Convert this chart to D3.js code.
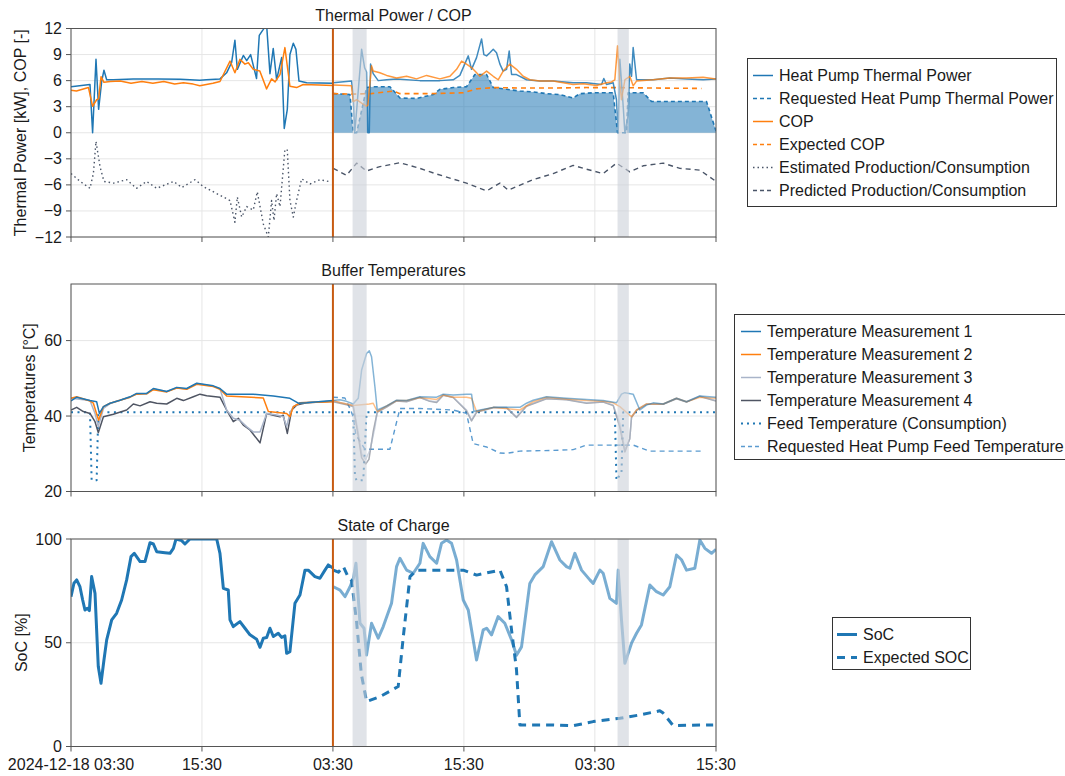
<!DOCTYPE html>
<html>
<head>
<meta charset="utf-8">
<script src="https://cdn.jsdelivr.net/npm/d3@7"></script>
<style>
  body { margin: 0; background: #fff; }
  svg text { font-family: "Liberation Sans", Arial, sans-serif; fill: #1a1a1a; }
</style>
</head>
<body>
<div id="chart"></div>
<script>
// time axis: hours after 2024-12-18 03:30
var xTickHours = [0, 12, 24, 36, 48, 59.1];
var xTickLabels = ["2024-12-18 03:30", "15:30", "03:30", "15:30", "03:30", "15:30"];
var nowHour = 24;
var blockedSpans = [[25.8, 27.09], [50.08, 51.11]];

// --- Thermal Power / COP ---
var hpPowerHist = [[0,5.3],[1.74,5.55],[1.98,0],[2.29,8.45],[2.53,2.7],[2.81,5.9],[3.02,7.2],[3.27,6.1],[3.88,6.1],[5.7,6.2],[8,6.2],[10,6.15],[11.8,6.05],[12.4,6.1],[13.65,6.2],[14.26,6.9],[14.72,8.1],[15.02,10.65],[15.24,7.3],[15.79,8.9],[16.1,8.3],[16.46,9.0],[17.0,6.25],[17.25,11.2],[17.62,11.9],[17.92,12.5],[18.23,6.8],[18.53,9.7],[18.84,6.1],[19.3,8.65],[19.54,0.5],[19.82,2.7],[20.06,9.0],[20.37,10.3],[20.61,9.6],[20.89,5.95],[21.6,5.75],[24.0,5.7]];
var hpPowerSim = [[24.03,5.75],[25.71,5.95],[25.86,4.2],[26.0,0],[26.2,3],[26.63,9.6],[26.9,7.5],[27.08,7.0],[27.2,0],[27.33,0],[27.45,7.9],[27.69,6.8],[28.15,6.0],[28.92,6.1],[29.83,6.2],[31.97,6.0],[33.8,6.0],[35.02,6.1],[35.63,6.6],[36.4,8.85],[36.7,7.3],[37.16,8.65],[37.62,10.8],[37.83,9.0],[38.08,8.85],[38.38,9.2],[38.69,9.6],[38.99,9.2],[39.3,7.9],[39.6,7.1],[39.91,7.3],[40.15,9.4],[40.37,6.7],[40.82,6.7],[41.74,6.1],[42.96,5.95],[44.18,5.95],[46.01,5.75],[47.24,5.75],[48.61,5.55],[48.82,6.25],[49.07,5.55],[49.68,5.75],[49.98,3.8],[50.14,0],[50.29,8.45],[50.6,3],[50.75,0],[51.05,2],[51.2,7.9],[51.36,6.5],[51.51,9.8],[51.82,6.1],[53.34,6.1],[54.87,6.3],[56.4,6.2],[57.92,6.1],[59.1,6.2]];
var hpPowerRequested = [[24.03,4.5],[25.56,4.4],[25.86,0],[26.17,0],[26.78,3.4],[27.08,5.2],[27.69,5.3],[29.22,5.3],[30.14,4.0],[31.66,3.95],[33.19,4.4],[33.8,5.0],[35.02,5.2],[36.24,5.3],[37.01,6.7],[38.08,6.7],[38.69,5.2],[39.91,5.0],[41.13,4.8],[42.35,4.7],[43.57,4.5],[44.79,4.4],[46.01,4.0],[46.62,4.5],[47.85,4.6],[49.68,4.6],[50.08,0],[50.9,0],[51.05,4.6],[52.43,4.6],[53.19,3.6],[54.56,3.6],[58.23,3.6],[59.1,0.2]];
var copHist = [[0,4.9],[0.5,4.8],[1.6,5.2],[1.98,3.05],[2.35,3.8],[2.53,3.9],[2.75,6.45],[3.02,5.8],[3.6,5.9],[4.5,5.95],[5.5,5.7],[6.5,5.9],[7.5,5.7],[8.5,5.9],[9.5,5.6],[10.3,5.75],[11.2,5.6],[11.8,5.4],[13,5.7],[13.65,5.9],[14.57,8.25],[15.02,6.9],[15.48,8.45],[15.94,7.9],[16.25,8.05],[16.7,7.3],[17.3,7.1],[17.92,5.05],[18.38,6.2],[18.7,5.85],[19.15,6.7],[19.6,9.8],[20.06,5.35],[20.67,5.2],[21.28,5.55],[22.75,5.5],[24.0,5.45]];
var copSim = [[24.03,5.5],[25.2,5.45],[25.7,5.4],[25.86,3.6],[26.17,3.8],[26.63,3.4],[27.08,3.05],[27.2,3.2],[27.54,7.7],[27.69,7.1],[28.3,6.9],[28.92,6.6],[29.83,6.3],[30.75,6.5],[31.66,6.2],[32.58,6.6],[33.8,6.2],[34.72,6.5],[35.33,7.3],[35.79,8.25],[36.24,7.9],[36.7,7.5],[37.01,7.1],[37.47,6.5],[38.08,7.1],[38.69,6.5],[39.14,6.1],[39.6,7.1],[40.21,7.9],[40.82,7.3],[41.43,6.5],[42.05,6.1],[42.96,5.95],[44.18,5.95],[45.1,5.75],[46.01,5.55],[46.93,5.65],[48.15,5.45],[49.07,5.75],[49.53,5.85],[49.83,6.1],[50.08,10.0],[50.29,5.75],[50.44,3.8],[50.75,6.1],[51.2,6.5],[51.51,5.4],[51.82,5.95],[53.34,6.1],[54.87,6.3],[56.4,6.3],[57.92,6.4],[59.1,6.2]];
var copExpected = [[24.03,4.5],[25.8,4.45],[27.5,4.5],[29.53,4.8],[30.14,4.5],[32.88,4.5],[35.94,4.6],[37.16,5.05],[38.69,5.2],[41.13,5.15],[44.18,5.15],[47.24,5.2],[49.68,5.2],[53.34,5.15],[57.77,5.1]];
var prodEstimated = [[0,-4.7],[0.84,-5.6],[1.74,-6.4],[2.05,-4.7],[2.29,-1.0],[2.66,-3.9],[3.02,-5.6],[3.88,-5.8],[5.1,-5.4],[6.0,-6.4],[6.93,-5.6],[7.85,-6.4],[9.4,-5.6],[10.15,-6.3],[11.37,-5.4],[12.13,-6.2],[13.35,-7.0],[14.57,-7.8],[15.02,-10.3],[15.24,-7.4],[15.64,-9.7],[16.1,-8.5],[16.7,-8.9],[17.07,-6.8],[17.62,-10.5],[18.08,-12],[18.38,-7.8],[18.6,-10.1],[18.84,-7.0],[19.15,-8.5],[19.6,-1.9],[19.82,-2.0],[20.06,-7.8],[20.37,-9.7],[20.67,-7.8],[21.13,-5.3],[21.9,-5.9],[22.8,-5.4],[23.6,-5.6]];
var prodPredicted = [[24.03,-4.1],[25.25,-4.9],[26.17,-3.5],[27.08,-4.4],[28.3,-3.9],[30.14,-3.45],[31.97,-4.1],[33.5,-4.75],[36.24,-5.8],[38.08,-6.7],[39.3,-5.8],[40.06,-6.6],[42.35,-5.4],[44.18,-4.7],[46.01,-3.75],[47.24,-4.2],[48.76,-4.7],[49.98,-3.5],[51.2,-4.5],[52.43,-3.8],[54.26,-3.5],[55.79,-4.1],[57.62,-4.3],[59.1,-5.6]];

// --- Buffer Temperatures ---
var temp1Hist = [[0,44.0],[0.52,45.0],[1.74,44.1],[2.35,43.8],[2.6,40.7],[2.97,42.5],[3.58,43.4],[4.49,44.2],[5.41,45.1],[6.02,46.0],[6.93,46.0],[7.55,47.3],[8.77,46.5],[9.69,47.6],[10.6,47.3],[11.52,48.7],[13.04,48.0],[13.65,47.3],[14.26,45.8],[16.7,45.8],[18.54,45.3],[20.06,44.7],[20.83,43.4],[21.59,43.5],[24.0,44.1]];
var temp1Sim = [[24.03,44.1],[24.64,44.3],[25.25,43.9],[25.86,43.2],[26.32,44.7],[26.63,52.2],[27.08,56.6],[27.33,57.3],[27.54,55.7],[27.85,47.7],[28.06,41.6],[28.92,42.7],[29.83,44.2],[30.75,44.1],[31.97,45.1],[33.5,45.0],[34.11,45.8],[35.02,45.6],[36.24,45.8],[36.7,45.8],[36.92,41.2],[37.47,41.6],[38.69,42.3],[41.13,42.3],[41.74,43.4],[42.35,44.2],[43.57,45.1],[45.4,44.7],[47.24,44.4],[48.76,44.1],[49.98,43.5],[50.44,45.8],[50.75,46.2],[51.51,45.8],[52.12,41.6],[52.73,42.9],[53.34,43.5],[54.26,43.2],[55.48,44.7],[56.4,43.8],[57.62,45.3],[59.1,45.0]];
var temp2Hist = [[0,44.7],[0.52,45.1],[1.74,44.0],[2.05,43.4],[2.53,38.9],[2.97,42.5],[3.58,43.4],[4.49,44.2],[5.41,45.0],[6.02,45.8],[6.93,45.9],[7.55,47.0],[8.77,46.4],[9.69,47.4],[10.6,47.1],[11.52,48.4],[13.04,47.8],[13.65,47.1],[14.26,45.3],[17.62,44.8],[18.08,41.2],[19.76,40.7],[20.06,39.8],[20.37,42.5],[20.98,43.5],[24.0,43.8]];
var temp2Sim = [[24.03,44.1],[24.64,43.6],[25.25,43.2],[25.86,42.8],[27.33,43.2],[27.69,43.4],[28.06,41.2],[28.92,42.7],[29.83,44.1],[30.75,44.1],[31.97,44.9],[33.5,44.4],[34.11,45.6],[35.02,45.0],[36.24,45.0],[36.7,44.7],[37.16,41.2],[38.69,42.3],[41.13,41.6],[42.35,43.8],[43.57,45.0],[45.4,44.5],[47.24,44.1],[48.76,43.9],[49.68,43.5],[50.29,42.5],[51.36,39.8],[51.82,41.6],[52.73,43.2],[54.26,43.2],[55.48,44.7],[56.4,43.8],[57.62,45.0],[59.1,44.7]];
var temp3Hist = [[0,44.7],[1.74,44.1],[2.2,40.7],[2.5,37.2],[2.97,42.0],[3.58,43.3],[4.49,44.2],[5.41,45.0],[6.02,45.9],[6.93,45.9],[7.55,47.2],[8.77,46.5],[9.69,47.5],[10.6,47.2],[11.52,48.6],[13.04,47.9],[13.65,47.2],[14.26,41.6],[14.87,39.4],[15.48,38.9],[16.09,37.2],[16.7,35.8],[17.32,35.8],[17.93,40.7],[18.84,40.3],[19.45,39.8],[19.76,37.2],[20.06,40.7],[20.37,42.5],[20.98,43.5],[24.0,44.0]];
var temp3Sim = [[24.03,44.0],[25.25,43.2],[25.86,42.8],[26.3,36],[26.63,30],[27.0,28.5],[27.4,31],[27.85,37],[28.06,41.2],[28.92,42.5],[29.83,44.1],[30.75,43.9],[31.97,45.0],[32.88,44.0],[33.5,43.8],[34.11,45.6],[35.02,45.0],[36.24,41.6],[36.7,38.9],[37.16,41.2],[38.69,42.3],[39.91,42.3],[40.82,39.8],[41.74,42.7],[43.57,44.7],[45.4,44.4],[47.24,43.5],[48.76,43.8],[49.68,42.9],[50.29,38],[50.75,31],[51.2,34],[51.36,39.8],[51.82,41.6],[52.73,43.2],[54.26,43.2],[55.48,44.7],[56.4,43.8],[57.62,45.3],[59.1,44.1]];
var temp4Hist = [[0,41.6],[0.52,42.3],[1.13,41.2],[1.74,40.7],[2.2,38.5],[2.5,35.6],[2.97,39.8],[3.88,40.5],[5.1,41.6],[5.71,43.2],[6.33,42.7],[7.24,43.8],[7.85,43.4],[8.77,43.2],[9.69,44.7],[10.3,44.1],[11.21,45.1],[11.82,45.8],[12.43,45.4],[13.65,45.0],[14.26,41.6],[14.87,38.5],[15.33,39.4],[15.79,37.6],[16.4,36.3],[17.32,32.9],[17.93,40.7],[18.54,40.2],[19.15,39.8],[19.45,40.2],[19.82,35.4],[20.22,41.6],[20.67,42.9],[21.59,43.5],[24.0,43.9]];
var temp4Sim = [[24.03,43.8],[25.25,43.0],[25.86,42.5],[26.3,35],[26.63,29],[27.0,27.3],[27.3,28.5],[27.7,36],[28.06,41.0],[28.92,42.4],[29.83,44.0],[30.75,43.8],[31.97,44.9],[32.88,43.9],[33.5,43.6],[34.11,45.5],[35.02,44.9],[36.24,41.4],[36.7,38.7],[37.16,41.0],[38.69,42.2],[39.91,42.2],[40.82,39.6],[41.74,42.6],[43.57,44.6],[45.4,44.3],[47.24,43.4],[48.76,43.7],[49.68,42.8],[50.29,37],[50.75,30.5],[51.2,34],[51.36,39.6],[51.82,41.5],[52.73,43.1],[54.26,43.1],[55.48,44.6],[56.4,43.7],[57.62,45.2],[59.1,44.0]];
var feedTemp = [[0,41],[1.74,41],[1.89,23],[2.35,23],[2.5,41],[25.86,41],[26.02,24],[26.17,22.9],[26.78,23],[27.08,41],[49.83,41],[49.98,23],[50.44,25],[50.6,41],[59.1,41]];
var feedTempRequested = [[24.0,45.0],[25.1,44.8],[25.56,42.0],[25.86,39.8],[26.1,35],[26.93,31.2],[29.22,31.2],[30.14,42.0],[31.97,42.0],[35.02,41.6],[36.24,40.7],[36.85,32.7],[38.08,31.8],[39.3,30.2],[39.91,30.1],[41.13,30.7],[44.18,30.9],[46.01,31.1],[47.24,32.3],[49.68,32.3],[51.51,32.3],[53.03,30.7],[57.92,30.7]];

// --- State of Charge ---
var socHist = [[0,72.2],[0.27,78.7],[0.52,80.3],[0.82,77],[1.07,70.6],[1.28,65.8],[1.5,66.6],[1.68,65.5],[1.89,81.9],[2.2,73.8],[2.5,38.5],[2.75,30.5],[3.02,41.7],[3.27,51.4],[3.73,61],[4.18,64.2],[4.64,70.6],[5.1,80.3],[5.5,91.5],[5.8,93.1],[6.33,89.1],[6.78,89.1],[7.24,98.2],[7.55,97.6],[7.85,93.9],[8.61,93.4],[9.07,93.1],[9.38,95.5],[9.62,100],[10.14,99.2],[10.44,97.6],[10.9,100],[11.82,100],[13.35,100],[13.65,93.1],[13.96,76.2],[14.41,75.4],[14.57,61],[14.87,57.8],[15.48,60.2],[15.94,57],[16.4,53.8],[17.01,51.7],[17.32,47.8],[17.62,52.2],[17.93,52.5],[18.23,57],[18.54,53],[18.99,54.6],[19.3,52.6],[19.6,53.3],[19.76,44.9],[20.06,45.7],[20.52,69],[20.98,73],[21.44,85],[21.74,85],[22.35,81.9],[22.81,81.1],[23.27,85],[23.57,87.5],[24.04,85.9]];
var socSim = [[24.04,77],[24.65,75.4],[25.11,72.2],[25.57,77],[25.87,81],[26.11,88.3],[26.48,59.4],[26.85,57],[27.08,44.1],[27.54,59.4],[28.15,52.2],[28.61,57.8],[29.37,69],[29.83,86.7],[30.14,90.7],[30.75,85],[31.36,83.5],[31.97,88.3],[32.27,97.9],[32.88,91.5],[33.5,88.3],[33.95,97.9],[34.41,99.5],[34.87,97.9],[35.33,89.9],[35.94,70.6],[36.4,65.8],[37.16,41.7],[37.77,56.2],[38.08,57],[38.53,53.8],[39.14,62.6],[39.75,59.4],[40.37,51.4],[40.82,44],[41.28,48],[42.04,78.6],[42.5,82.7],[43.27,86.7],[44.03,98.7],[44.79,89.9],[45.4,86.7],[45.71,85.9],[46.17,93.1],[46.78,85],[47.54,80.3],[47.85,78.6],[48.46,85],[48.76,83.5],[49.37,71.4],[49.98,69],[50.14,85],[50.44,61],[50.75,40.1],[51.36,49.8],[51.82,54.6],[52.27,58.6],[53.04,77.8],[53.65,74.6],[54.26,73],[54.87,77],[55.48,92.3],[55.94,90],[56.4,85],[57.16,85.9],[57.62,99.5],[58.08,95.5],[58.69,93.1],[59.1,95]];
var socExpected = [[24.04,85],[24.5,84],[24.96,86.7],[25.41,81.5],[25.71,80],[26.17,60],[26.6,35],[27.08,21.7],[28.3,24],[29.98,28.9],[30.45,53],[31.06,81.9],[31.66,85],[35.94,85],[37.16,82.6],[39.3,85],[39.91,77],[40.37,56],[40.82,37],[41.13,10.4],[42.35,10.4],[44.18,10.4],[46.01,10],[47.85,12.0],[50.29,13.6],[52.12,15.2],[53.95,17.2],[54.26,16.1],[55.17,10.1],[58.84,10.4]];

var blue = "#1f77b4", orange = "#ff7f0e", slate = "#4a5568";
var spine = "#555", grid = "#e6e6e6", nowColor = "#c75b12";
var fontSize = "16px";

var svg = d3.select("#chart").append("svg")
    .attr("width", 1065)
    .attr("height", 776);

var x = d3.scaleLinear().domain([0, 59.1]).range([71, 716]);

var panels = [
  { title: "Thermal Power / COP", ylabel: "Thermal Power [kW], COP [-]", top: 28.5, bottom: 237,
    domain: [-12, 12], ticks: d3.range(-12, 13, 3), labelX: 20 },
  { title: "Buffer Temperatures", ylabel: "Temperatures [°C]", top: 284, bottom: 491.5,
    domain: [20, 75], ticks: [20, 40, 60], labelX: 29 },
  { title: "State of Charge", ylabel: "SoC [%]", top: 539, bottom: 746.5,
    domain: [0, 100], ticks: [0, 50, 100], labelX: 21 }
];

var fmt = function (v) { return v < 0 ? "\u2212" + Math.abs(v) : String(v); };

panels.forEach(function (p, i) {
  p.y = d3.scaleLinear().domain(p.domain).range([p.bottom, p.top]);
  var g = svg.append("g");
  p.g = g;

  svg.append("clipPath").attr("id", "clip" + i)
    .append("rect").attr("x", 71).attr("y", p.top)
    .attr("width", 645).attr("height", p.bottom - p.top);

  // grid
  g.selectAll(".gy").data(p.ticks).enter().append("line")
    .attr("x1", 71).attr("x2", 716)
    .attr("y1", function (d) { return p.y(d); }).attr("y2", function (d) { return p.y(d); })
    .attr("stroke", grid).attr("stroke-width", 1);
  g.selectAll(".gx").data(xTickHours).enter().append("line")
    .attr("x1", function (d) { return x(d); }).attr("x2", function (d) { return x(d); })
    .attr("y1", p.top).attr("y2", p.bottom)
    .attr("stroke", grid).attr("stroke-width", 1);

  p.plot = g.append("g").attr("clip-path", "url(#clip" + i + ")");

  // title and y label
  svg.append("text").attr("x", 393.5).attr("y", p.top - 8)
    .attr("text-anchor", "middle").style("font-size", fontSize).text(p.title);
  svg.append("text")
    .attr("transform", "translate(" + p.labelX + "," + ((p.top + p.bottom) / 2) + ") rotate(-90)")
    .attr("text-anchor", "middle").attr("dominant-baseline", "central")
    .style("font-size", fontSize).text(p.ylabel);

  // y ticks
  var yt = svg.append("g");
  p.ticks.forEach(function (t) {
    yt.append("line").attr("x1", 66).attr("x2", 71)
      .attr("y1", p.y(t)).attr("y2", p.y(t)).attr("stroke", spine);
    yt.append("text").attr("x", 62).attr("y", p.y(t))
      .attr("text-anchor", "end").attr("dominant-baseline", "central")
      .style("font-size", fontSize).text(fmt(t));
  });
  // x ticks
  xTickHours.forEach(function (h, k) {
    yt.append("line").attr("x1", x(h)).attr("x2", x(h))
      .attr("y1", p.bottom).attr("y2", p.bottom + 5).attr("stroke", spine);
    if (i === 2) {
      yt.append("text").attr("x", x(h)).attr("y", p.bottom + 23)
        .attr("text-anchor", "middle")
        .style("font-size", fontSize).text(xTickLabels[k]);
    }
  });
});

function drawLine(p, data, color, width, dash, opacity) {
  var line = d3.line().x(function (d) { return x(d[0]); }).y(function (d) { return p.y(d[1]); });
  p.plot.append("path").datum(data)
    .attr("d", line)
    .attr("fill", "none")
    .attr("stroke", color)
    .attr("stroke-width", width)
    .attr("stroke-dasharray", dash || null)
    .attr("stroke-linejoin", "round")
    .attr("opacity", opacity == null ? 1 : opacity);
}

// panel 1
var p1 = panels[0];
p1.plot.append("path").datum(hpPowerRequested)
  .attr("d", d3.area().x(function (d) { return x(d[0]); })
    .y0(p1.y(0)).y1(function (d) { return p1.y(d[1]); }))
  .attr("fill", blue).attr("opacity", 0.55);
drawLine(p1, hpPowerRequested, blue, 1.6, "4,3");
drawLine(p1, copExpected, orange, 1.6, "5,4");
drawLine(p1, prodEstimated, slate, 1.4, "1.5,3");
drawLine(p1, prodPredicted, slate, 1.4, "5,4");
drawLine(p1, hpPowerHist, blue, 1.5);
drawLine(p1, copHist, orange, 1.5);
drawLine(p1, hpPowerSim, blue, 1.5, null, 0.85);
drawLine(p1, copSim, orange, 1.5, null, 0.8);

// panel 2
var p2 = panels[1];
var t3Color = "#a9b4c9", t4Color = "#4f5563", reqFeedColor = "#5b9bd0";
drawLine(p2, feedTemp, blue, 2, "2,4.5");
drawLine(p2, feedTempRequested, reqFeedColor, 1.4, "5,4");
drawLine(p2, temp4Hist, t4Color, 1.5);
drawLine(p2, temp3Hist, t3Color, 1.5);
drawLine(p2, temp2Hist, orange, 1.5);
drawLine(p2, temp1Hist, blue, 1.5);
drawLine(p2, temp4Sim, t4Color, 1.5, null, 0.5);
drawLine(p2, temp3Sim, t3Color, 1.5, null, 0.55);
drawLine(p2, temp2Sim, orange, 1.5, null, 0.5);
drawLine(p2, temp1Sim, blue, 1.5, null, 0.55);

// panel 3
var p3 = panels[2];
drawLine(p3, socHist, blue, 3);
drawLine(p3, socSim, blue, 3, null, 0.6);
drawLine(p3, socExpected, blue, 3, "8,6");

// blocked spans, now line, frames
panels.forEach(function (p) {
  p.plot.selectAll(".span").data(blockedSpans).enter().append("rect")
    .attr("x", function (d) { return x(d[0]); })
    .attr("width", function (d) { return x(d[1]) - x(d[0]); })
    .attr("y", p.top).attr("height", p.bottom - p.top)
    .attr("fill", "rgb(203,209,217)").attr("opacity", 0.6);
  p.plot.append("line").attr("x1", x(nowHour)).attr("x2", x(nowHour))
    .attr("y1", p.top).attr("y2", p.bottom)
    .attr("stroke", nowColor).attr("stroke-width", 2);
  svg.append("rect").attr("x", 71).attr("y", p.top)
    .attr("width", 645).attr("height", p.bottom - p.top)
    .attr("fill", "none").attr("stroke", spine).attr("stroke-width", 1);
});

// legends
function legend(x0, y0, w, h, sx, items) {
  var g = svg.append("g");
  g.append("rect").attr("x", x0).attr("y", y0).attr("width", w).attr("height", h)
    .attr("fill", "#fff").attr("stroke", "#333").attr("stroke-width", 1);
  items.forEach(function (it, k) {
    var yy = y0 + 17 + k * 23;
    g.append("line").attr("x1", sx).attr("x2", sx + 20).attr("y1", yy).attr("y2", yy)
      .attr("stroke", it.color).attr("stroke-width", it.width || 1.5)
      .attr("stroke-dasharray", it.dash || null);
    g.append("text").attr("x", sx + 26).attr("y", yy).attr("dominant-baseline", "central")
      .style("font-size", fontSize).text(it.label);
  });
}
legend(747.5, 58.5, 309, 148, 753, [
  { label: "Heat Pump Thermal Power", color: blue },
  { label: "Requested Heat Pump Thermal Power", color: blue, dash: "4,3" },
  { label: "COP", color: orange },
  { label: "Expected COP", color: orange, dash: "4,3" },
  { label: "Estimated Production/Consumption", color: slate, dash: "1.5,3" },
  { label: "Predicted Production/Consumption", color: slate, dash: "4,3" }
]);
legend(734.5, 314.5, 340, 145, 741, [
  { label: "Temperature Measurement 1", color: blue },
  { label: "Temperature Measurement 2", color: orange },
  { label: "Temperature Measurement 3", color: t3Color },
  { label: "Temperature Measurement 4", color: t4Color },
  { label: "Feed Temperature (Consumption)", color: blue, dash: "2,4", width: 2 },
  { label: "Requested Heat Pump Feed Temperature", color: reqFeedColor, dash: "4,3" }
]);
legend(832.5, 617.5, 138, 52, 837, [
  { label: "SoC", color: blue, width: 3 },
  { label: "Expected SOC", color: blue, width: 3, dash: "8,6" }
]);
</script>
</body>
</html>
